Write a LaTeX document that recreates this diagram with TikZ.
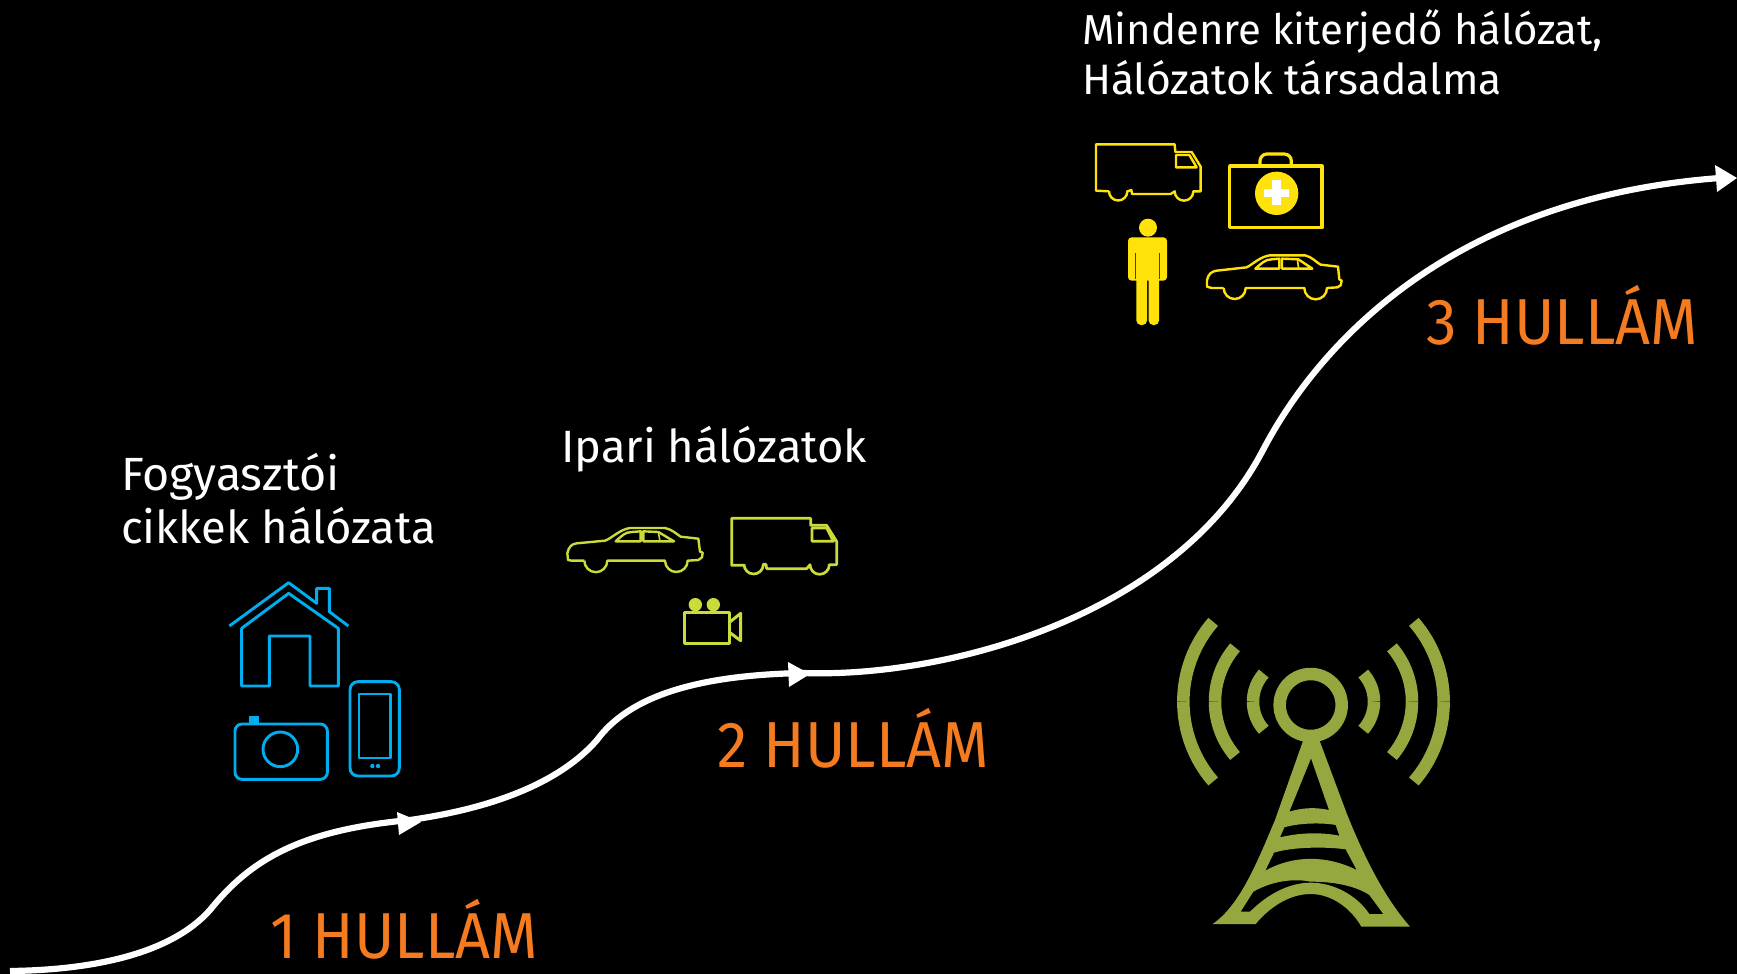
\documentclass[tikz,border=0pt]{standalone}
\usepackage{fontspec}
\setmainfont{Fira Sans}
\newfontfamily\wavefont[FakeStretch=0.94]{Fira Sans}
\definecolor{wave}{HTML}{F47B20}
\definecolor{blueicon}{HTML}{00AEEF}
\definecolor{limeicon}{HTML}{CBDB3A}
\definecolor{yellowicon}{HTML}{FFE20A}
\definecolor{tower}{HTML}{94A83F}
\tikzset{
  wavelabel/.style={text=wave,font=\wavefont\fontsize{65}{70}\selectfont,anchor=base west,inner sep=0pt},
  headlabel/.style={text=white,font=\fontsize{45.3}{52.6}\selectfont,anchor=base west,inner sep=0pt,align=left},
  topheadlabel/.style={text=white,font=\fontsize{42.6}{51}\selectfont,anchor=base west,inner sep=0pt,align=left},
  zoomed/.style={shift={#1},scale=1/3},
  ic/.style={line width=#1,line join=round},
  cable/.style={draw=white,line width=6.2pt,line cap=butt},
  tip/.style={fill=white,draw=none},
}
\begin{document}
\begin{tikzpicture}[x=1pt,y=-1pt]
\useasboundingbox (0,0) rectangle (1737,974);
\fill[black] (0,0) rectangle (1737,974);
% curve
\draw[cable] (10,971) .. controls (90,970) and (170,955) .. (210,910)
 .. controls (250,860) and (300,830) .. (410,820)
 .. controls (480,810) and (555,788) .. (597,740)
 .. controls (630,695) and (700,675) .. (803,673)
 .. controls (945,678) and (1175,618) .. (1263,450)
 .. controls (1318,345) and (1450,198) .. (1720,178);
\fill[tip] (397,812) -- (421,822) -- (399,835) -- cycle;
\fill[tip] (788,662) -- (810,674) -- (789,687) -- cycle;
\fill[tip] (1715,165) -- (1737,178) -- (1717,192) -- cycle;
% text
\node[wavelabel] (w1) at (270,958) {1 HULLÁM};
\node[wavelabel] (w2) at (717,767) {2 HULLÁM};
\node[wavelabel] (w3) at (1426,344) {3 HULLÁM};
\node[headlabel] (h1) at (121,543) {{\fontsize{46.6}{52.6}\selectfont Fogyasztói}\\cikkek hálózata};
\node[headlabel] (h2) at (561,462) {Ipari hálózatok};
\node[topheadlabel] (h3) at (1082,95) {{\fontsize{41.9}{51}\selectfont Mindenre kiterjedő hálózat,}\\Hálózatok társadalma};
% house, camera, phone
\begin{scope}[zoomed={(200,560)},draw=blueicon,ic=2.9pt,fill=blueicon]
\draw[fill=none] (88,198) -- (266,68) -- (350,130) -- (350,85) -- (388,85) -- (388,155) -- (445,198);
\draw[fill=none] (125,378) -- (125,205) -- (266,100) -- (415,205) -- (415,378) -- (330,378) -- (330,228) -- (208,228) -- (208,378) -- cycle;
\draw[fill=none,rounded corners=7pt] (105,492) rectangle (382,658);
\fill (147,468) rectangle (176,492);
\draw[fill=none] (241,568) circle[radius=52];
\draw[fill=none,rounded corners=8pt] (450,365) rectangle (598,648);
\draw[fill=none] (477,402) rectangle (571,594);
\fill (517,618) circle[radius=6.5];
\fill (534,618) circle[radius=6.5];
\end{scope}
% car lime
\begin{scope}[zoomed={(550,500)},draw=limeicon,ic=2.4pt,fill=limeicon]
\draw[fill=none] (103,182) -- (65,182) -- (54,180) -- (52,160) .. controls (56,140) and (65,132) .. (80,130) -- (165,122) .. controls (185,115) and (210,88) .. (240,84) -- (345,84) .. controls (365,88) and (380,102) .. (392,110) -- (445,116) -- (450,155) -- (458,158) -- (456,172) -- (445,180) -- (413,182) arc[start angle=0,end angle=180,radius=34] -- (172,182) arc[start angle=0,end angle=180,radius=34.5];
\draw[fill=none] (197,124) .. controls (215,108) and (225,96) .. (245,96) -- (272,94) -- (272,124) -- cycle;
\draw[fill=none] (280,94) -- (325,96) -- (372,124) -- (280,124) -- cycle;
\draw[fill=none,line width=1.6pt] (325,96) -- (330,124);
% truck lime
\draw[fill=none,line width=2.7pt] (583,196) -- (545,196) -- (545,55) -- (782,55) -- (782,76) -- (830,76) -- (860,124) -- (860,194) -- (838,194) arc[start angle=0,end angle=180,radius=29] -- (770,206) -- (650,206) -- (648,193) -- (640,193) arc[start angle=0,end angle=180,radius=29];
\draw[fill=none,line width=2.7pt] (786,84) -- (830,84) -- (850,124) -- (786,124) -- cycle;
\draw[fill=none,line width=1.4pt] (830,76) -- (856,124);
% movie camera
\draw[fill=none,line width=3pt] (404,336) rectangle (537,430);
\draw[fill=none,line width=3pt] (537,368) -- (572,340) -- (572,422) -- (537,396);
\fill (436,314) circle[radius=20];
\fill (490,314) circle[radius=20];
\end{scope}
% yellow
\begin{scope}[zoomed={(1070,130)},draw=yellowicon,ic=2.4pt,fill=yellowicon]
\draw[fill=none] (117,184) -- (78,182) -- (78,43) -- (314,43) -- (316,66) -- (365,66) -- (392,110) -- (392,184) -- (370,184) arc[start angle=0,end angle=180,radius=28] -- (302,192) -- (186,192) -- (184,180) -- (172,184) arc[start angle=0,end angle=180,radius=27.5];
\draw[fill=none] (318,75) -- (358,75) -- (380,112) -- (318,112) -- cycle;
\draw[fill=none,line width=3.2pt] (479,108) rectangle (756,293);
\draw[fill=none,line width=3.2pt,rounded corners=7pt] (570,108) -- (570,72) -- (664,72) -- (664,108);
\fill (620,190) circle[radius=65];
\fill[white] (607,150) rectangle (632,226);
\fill[white] (581,176) rectangle (658,201);
% person
\fill (234,293) circle[radius=27];
\fill[rounded corners=3.5pt] (174,452) -- (174,322) -- (291,322) -- (291,452) -- cycle;
\fill[rounded corners=4.5pt] (199,430) rectangle (231,585);
\fill[rounded corners=4.5pt] (236,430) rectangle (267,585);
\fill (199,400) rectangle (267,448);
\draw[black!70!yellowicon,line width=0.8pt] (197,370) -- (197,448);
\draw[black!70!yellowicon,line width=0.8pt] (268,370) -- (268,448);
% car yellow
\draw[fill=none] (461,474) -- (425,474) -- (411,470) -- (411,450) .. controls (415,432) and (425,424) .. (440,422) -- (530,412) .. controls (550,402) and (570,380) .. (600,376) -- (705,376) .. controls (725,380) and (740,398) .. (752,404) -- (804,410) -- (808,448) -- (815,452) -- (812,466) -- (802,472) -- (771,474) arc[start angle=0,end angle=180,radius=34] -- (527,474) arc[start angle=0,end angle=180,radius=33];
\draw[fill=none] (556,416) .. controls (575,400) and (585,388) .. (605,388) -- (628,386) -- (628,416) -- cycle;
\draw[fill=none] (636,386) -- (685,388) -- (727,416) -- (636,416) -- cycle;
\draw[fill=none,line width=1.6pt] (682,388) -- (686,416);
\end{scope}
% tower
\begin{scope}[zoomed={(1160,600)},draw=tower,line width=12.5pt,line cap=butt,fill=tower]
\draw (452,315) circle[radius=93];
\foreach \m/\r/\a in {279/126/42,165/251/40.5,70/365/41}{
  \draw (\m,305) arc[start angle=180,end angle=180+\a,radius=\r];
  \draw (\m,305) arc[start angle=180,end angle=180-\a,radius=\r];
  \pgfmathsetmacro{\mr}{921-\m}
  \draw (\mr,305) arc[start angle=0,end angle=\a,radius=\r];
  \draw (\mr,305) arc[start angle=0,end angle=-\a,radius=\r];
}
\fill[even odd rule] (430,420) -- (478,420) -- (560,640) .. controls (620,790) and (680,900) .. (750,980) -- (604,980) .. controls (570,920) and (510,882) .. (452,882) .. controls (390,882) and (330,920) .. (287,972) -- (158,972) .. controls (240,915) and (290,790) .. (345,660) -- cycle
 (453,475) -- (507,630) .. controls (470,622) and (430,622) .. (388,635) -- cycle
 (373,682) .. controls (420,668) and (490,668) .. (527,675) -- (538,707) .. controls (480,696) and (420,698) .. (360,712) -- cycle
 (342,758) .. controls (400,740) and (500,740) .. (557,748) -- (590,810) .. controls (500,765) and (400,765) .. (316,812) -- cycle
 (280,875) .. controls (350,835) and (420,838) .. (452,845) .. controls (530,845) and (590,860) .. (628,885) -- (670,942) -- (628,942) .. controls (590,885) and (520,848) .. (452,848) .. controls (385,848) and (320,885) .. (270,935) -- (242,935) -- cycle;
\end{scope}
\end{tikzpicture}
\end{document}
